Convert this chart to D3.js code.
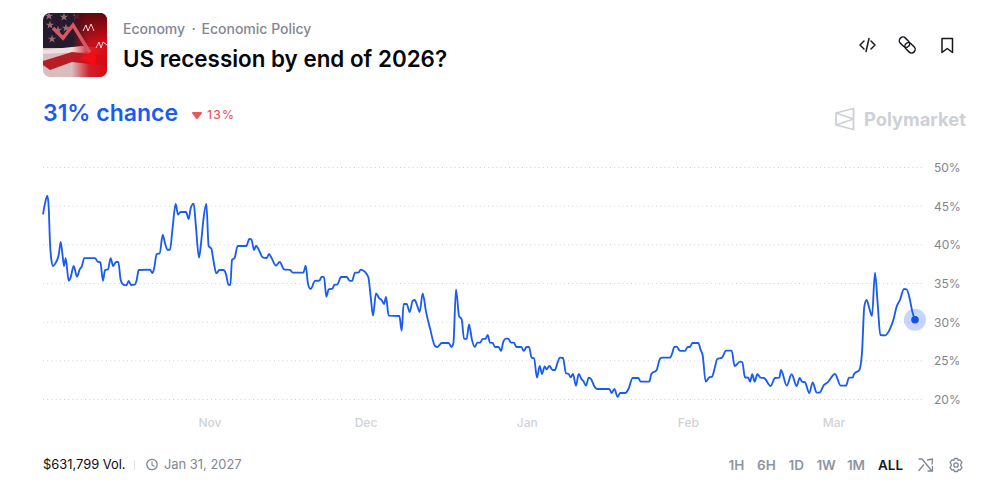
<!DOCTYPE html>
<html>
<head>
<meta charset="utf-8">
<script src="https://cdn.jsdelivr.net/npm/d3@7"></script>
<style>
  html, body { margin: 0; padding: 0; background: #fff; }
  svg { display: block; font-family: Inter, sans-serif; }
</style>
</head>
<body>
<div id="chart"></div>
<script>
// Days since 1 Nov 2025
const dayOffset = [
  -32.12,-31.73,-31.28,-31.03,-30.77,-30.51,-30.19,-29.81,-29.10,-28.72,-28.40,-28.08,-27.76,-27.18,-26.80,-26.22,-25.58,-25.06,-24.68,-24.17,
  -22.12,-21.60,-21.09,-20.58,-20.19,-19.62,-19.10,-18.65,-18.08,-17.63,-17.18,-16.67,-16.09,-15.64,-15.19,-14.49,-14.10,-13.72,-11.54,-11.09,
  -10.71,-10.26,-9.68,-9.10,-8.65,-8.21,-7.69,-7.24,-6.60,-6.15,-5.64,-4.62,-4.10,-3.72,-3.14,-2.76,-2.12,-1.73,-1.28,-0.71,
  -0.26,0.26,0.64,1.22,1.79,2.56,3.08,3.53,3.91,4.23,4.74,5.32,6.99,7.56,7.95,8.46,8.85,9.30,10.13,10.90,
  11.35,11.86,12.69,13.40,14.23,15.39,15.90,17.95,18.40,18.85,19.36,20.19,21.03,21.48,21.92,22.37,22.82,23.53,23.91,24.49,
  25.19,26.28,26.92,27.31,27.89,28.53,28.98,29.81,30.45,30.90,31.35,31.92,32.56,33.01,33.46,33.85,34.36,36.41,36.86,37.24,
  37.82,38.40,38.98,39.36,39.87,40.32,40.90,41.54,42.31,43.27,43.72,44.55,45.90,46.41,46.80,47.31,47.89,48.40,48.85,49.36,
  49.81,50.38,50.90,51.41,51.92,52.44,52.95,53.40,53.85,54.36,54.81,55.51,55.96,56.41,56.92,57.37,57.88,58.46,58.91,59.87,
  60.32,60.90,61.35,61.86,62.31,62.88,63.40,63.85,64.36,64.74,65.26,65.90,66.35,66.79,67.31,67.88,68.46,68.97,69.36,69.81,
  70.38,70.90,71.47,71.79,72.31,72.82,73.21,74.04,74.49,76.79,77.24,77.76,78.40,78.85,79.87,80.45,81.28,82.37,82.82,84.49,
  84.87,85.90,86.54,87.05,88.46,88.85,89.29,89.74,90.38,91.35,91.86,92.31,92.76,93.91,94.36,94.74,95.32,96.02,96.54,97.05,
  97.56,98.46,99.23,100.32,100.90,101.92,102.37,102.88,103.52,103.85,104.29,104.74,105.26,105.90,106.54,107.82,108.65,109.49,109.81,110.90,
  111.86,112.82,113.40,113.85,114.42,115.26,115.90,116.67,117.18,118.08,118.78,120.19,121.28,122.31,122.88,123.59,123.85,124.87,125.38,125.83,
  126.28,126.79,127.31,127.88,128.40,128.91,129.87,130.77,131.41,132.05,132.69,133.46,133.97,134.61,135.06,135.58
];

// Chance in percent, same order
const chance = [
  43.94,45.36,46.35,44.93,40.19,38.04,37.26,37.52,38.68,40.36,38.90,37.26,38.29,35.36,35.79,37.26,35.88,36.83,37.17,38.29,
  38.29,37.82,37.73,35.36,36.74,36.83,38.29,37.26,37.78,37.78,35.45,34.85,34.76,35.32,34.80,34.85,35.45,36.74,36.79,36.35,
  37.09,38.81,38.90,41.27,40.19,39.37,39.37,41.91,45.28,43.90,44.24,44.24,43.34,44.72,45.32,42.78,38.34,40.19,43.21,45.28,
  39.85,39.50,38.04,36.31,36.74,36.74,36.18,34.85,34.80,38.04,38.34,39.85,39.85,40.76,40.71,39.33,39.89,39.46,38.39,38.30,
  38.82,38.26,37.31,37.78,36.83,36.75,36.40,36.40,37.31,34.94,34.29,35.33,35.37,35.89,35.84,33.30,34.25,34.33,34.81,34.89,
  35.84,35.84,35.33,35.33,36.40,36.40,36.79,36.49,35.80,33.30,30.84,33.73,33.08,32.87,32.35,33.26,30.84,30.80,28.90,32.35,
  32.35,31.32,32.78,32.87,32.09,31.32,33.73,31.36,29.20,26.92,26.79,27.31,27.31,26.79,27.26,34.25,30.80,30.37,27.83,27.83,
  29.72,27.70,26.79,27.35,27.35,27.83,27.83,28.34,27.35,27.31,26.79,26.79,26.28,27.48,27.87,27.87,27.35,27.35,26.79,26.79,
  26.28,26.79,26.79,25.41,25.33,22.83,24.34,23.30,24.29,23.90,24.34,23.82,23.82,24.68,25.41,25.37,23.39,23.30,22.87,23.30,
  21.79,23.30,22.61,22.40,21.79,22.83,22.70,21.58,21.36,21.36,20.84,21.36,20.33,20.84,20.84,21.32,22.78,22.78,22.31,22.31,
  23.30,23.82,25.28,25.41,25.41,25.89,26.79,26.84,26.28,26.28,26.79,26.79,27.31,27.31,26.40,25.76,22.31,22.87,22.95,24.03,
  25.24,25.41,26.32,26.32,24.33,24.89,24.81,22.87,22.82,22.31,23.26,22.31,23.26,22.82,22.78,21.75,22.78,22.82,23.82,21.79,
  23.26,21.75,22.78,22.31,22.22,20.84,22.22,20.88,20.88,21.88,22.22,23.30,21.79,21.79,22.82,22.82,23.30,23.82,25.97,32.01,
  32.87,31.79,30.80,36.40,32.44,28.34,28.30,29.12,30.28,32.01,32.87,34.29,34.25,32.87,31.36,30.32
];

const yTicks = [20, 25, 30, 35, 40, 45, 50];
const monthTicks = ["2025-11-01", "2025-12-01", "2026-01-01", "2026-02-01", "2026-03-01"];
const monthLabels = ["Nov", "Dec", "Jan", "Feb", "Mar"];
const ranges = ["1H", "6H", "1D", "1W", "1M", "ALL"];

const blue = "#1b5cf0";
const width = 1005;
const height = 499;

const svg = d3.select("#chart")
  .append("svg")
    .attr("width", width)
    .attr("height", height)
    .attr("viewBox", `0 0 ${width} ${height}`);

// Chart
const nov1 = Date.UTC(2025, 10, 1);
const dates = dayOffset.map(d => new Date(nov1 + d * 864e5));
const points = dates.map((d, i) => ({date: d, value: chance[i]}));

const xScale = d3.scaleUtc()
  .domain([new Date(nov1 - 32.12 * 864e5), new Date(nov1 + 135.58 * 864e5)])
  .range([43, 915]);
const yScale = d3.scaleLinear()
  .domain([20, 50])
  .range([399.5, 167.5]);

svg.append("g")
  .selectAll("line")
  .data(yTicks)
  .join("line")
    .attr("x1", 43)
    .attr("x2", 924)
    .attr("y1", d => yScale(d))
    .attr("y2", d => yScale(d))
    .attr("stroke", "#cdd0d5")
    .attr("stroke-width", 1)
    .attr("stroke-dasharray", "1 3.2");

const leftLabels = d3.axisRight(yScale)
  .tickValues(yTicks)
  .tickFormat(d => `${d}%`)
  .tickSize(0)
  .tickPadding(0);
svg.append("g")
    .attr("class", "axis-y")
    .attr("transform", "translate(934, 0)")
    .call(leftLabels);

const bottomAxis = d3.axisBottom(xScale)
  .tickValues(monthTicks.map(d => new Date(d)))
  .tickFormat((d, i) => monthLabels[i])
  .tickSize(0)
  .tickPadding(0);
svg.append("g")
    .attr("class", "axis-x")
    .attr("transform", "translate(-0.5, 418)")
    .call(bottomAxis);

svg.selectAll(".domain").remove();
svg.selectAll(".axis-y text")
  .style("font-family", "Inter, sans-serif")
  .style("font-size", "12px")
  .attr("fill", "#808690");
svg.selectAll(".axis-x text")
  .style("font-family", "Inter, sans-serif")
  .style("font-size", "12px")
  .style("font-weight", 500)
  .attr("fill", "#cfd2d7");

const lineGenerator = d3.line()
  .x(d => xScale(d.date))
  .y(d => yScale(d.value))
  .curve(d3.curveMonotoneX);

svg.append("path")
    .attr("d", lineGenerator(points))
    .attr("fill", "none")
    .attr("stroke", blue)
    .attr("stroke-width", 1.85)
    .attr("stroke-linejoin", "round");

const last = points[points.length - 1];
svg.append("circle")
    .attr("cx", xScale(last.date))
    .attr("cy", yScale(last.value))
    .attr("r", 11)
    .attr("fill", blue)
    .attr("opacity", 0.25);
svg.append("circle")
    .attr("cx", xScale(last.date))
    .attr("cy", yScale(last.value))
    .attr("r", 3.8)
    .attr("fill", "#1250e4");

// Thumbnail
const defs = svg.append("defs");
defs.append("clipPath").attr("id", "thumb")
  .append("rect").attr("x", 43).attr("y", 13).attr("width", 64).attr("height", 64).attr("rx", 7);
const fade = defs.append("linearGradient").attr("id", "fade").attr("x1", 0).attr("x2", 1).attr("y1", 0).attr("y2", 0);
fade.append("stop").attr("offset", "45%").attr("stop-color", "#d0101a").attr("stop-opacity", 0);
fade.append("stop").attr("offset", "72%").attr("stop-color", "#d0101a").attr("stop-opacity", 0.9);
fade.append("stop").attr("offset", "100%").attr("stop-color", "#d80a14");
const dim = defs.append("linearGradient").attr("id", "dim").attr("x1", 0).attr("x2", 0).attr("y1", 0).attr("y2", 1);
dim.append("stop").attr("offset", "0%").attr("stop-color", "#4a060c").attr("stop-opacity", 0.85);
dim.append("stop").attr("offset", "45%").attr("stop-color", "#4a060c").attr("stop-opacity", 0);
const thumb = svg.append("g").attr("clip-path", "url(#thumb)");
thumb.append("rect").attr("x", 43).attr("y", 13).attr("width", 64).attr("height", 64).attr("fill", "#d9bcbd");
thumb.append("rect").attr("x", 43).attr("y", 13).attr("width", 64).attr("height", 35).attr("fill", "#251a2e");
thumb.append("path").attr("d", "M43 50 L82 46 L107 48 V50 L82 52 L43 54 Z").attr("fill", "#efe0df");
thumb.append("path").attr("d", "M43 61 L72 52 L107 56 V66 L72 62 L50 70 L43 65 Z").attr("fill", "#b81d26");
thumb.selectAll(".star")
  .data([[52, 39], [50, 25], [64, 17], [66, 28], [49, 16], [77, 16], [58, 30]])
  .join("path")
    .attr("class", "star")
    .attr("transform", d => `translate(${d[0]}, ${d[1]})`)
    .attr("d", d3.symbol(d3.symbolStar, 22))
    .attr("fill", "#9c6a75");
thumb.append("rect").attr("x", 43).attr("y", 13).attr("width", 64).attr("height", 64).attr("fill", "url(#fade)");
thumb.append("rect").attr("x", 75).attr("y", 13).attr("width", 32).attr("height", 64).attr("fill", "url(#dim)");
thumb.append("path").attr("d", "M53 28 L63 38 L73 25 L90 53").attr("fill", "none").attr("stroke", "#d9555f").attr("stroke-width", 3.5);
thumb.append("path").attr("d", "M80 58 L98 48 L95 66 Z").attr("fill", "#f00d14");
thumb.append("path").attr("d", "M83 31 L86 25 L88 31 L91 24 L94 31 M96 48 L99 42 L101 48 L103 42 L107 45")
  .attr("fill", "none").attr("stroke", "#f3d6d6").attr("stroke-width", 1);

// Header
const addText = (text, x, y, size, color, weight = 400, anchor = "start") =>
  svg.append("text")
    .text(text)
    .attr("x", x)
    .attr("y", y)
    .attr("font-size", size)
    .attr("fill", color)
    .attr("font-weight", weight)
    .attr("text-anchor", anchor);

addText("Economy", 123, 34, 14, "#7f8794", 500);
addText("·", 191.5, 34, 14, "#7f8794", 500);
addText("Economic Policy", 201.5, 34, 14, "#7f8794", 500);
addText("US recession by end of 2026?", 123, 67, 22.4, "#06070a", 600);
addText("31% chance", 43, 121, 23, blue, 600);
svg.append("path")
    .attr("d", "M193 112 H201 Q202.6 112 201.8 113.6 L198 118.5 Q197 119.5 196 118.5 L192.2 113.6 Q191.4 112 193 112 Z")
    .attr("fill", "#e9585e");
addText("13%", 207, 119, 12, "#e9585e", 500).attr("letter-spacing", "1.2");

// Header icons
const iconStroke = svg.append("g")
    .attr("fill", "none")
    .attr("stroke", "#16181d")
    .attr("stroke-width", 1.5)
    .attr("stroke-linecap", "round")
    .attr("stroke-linejoin", "round");
iconStroke.append("path").attr("d", "M864 41 L860 45 L864 49 M871 41 L875 45 L871 49 M869 38.5 L866 51.5");
iconStroke.selectAll(".link")
  .data([[904.5, 42.2], [910, 47.8]])
  .join("rect")
    .attr("class", "link")
    .attr("x", -5.8)
    .attr("y", -3.6)
    .attr("width", 11.6)
    .attr("height", 7.2)
    .attr("rx", 3.6)
    .attr("transform", d => `translate(${d[0]}, ${d[1]}) rotate(45)`);
iconStroke.append("path").attr("d", "M942 38.5 H952.5 V52.5 L947.2 48.5 L942 52.5 Z");

// Polymarket mark
svg.append("path")
    .attr("d", "M836 113 L853.5 108.5 V129.5 L836 125 Z M836 113 L853.5 119 L836 125")
    .attr("fill", "none")
    .attr("stroke", "#cdd1d7")
    .attr("stroke-width", 1.8)
    .attr("stroke-linejoin", "round");
addText("Polymarket", 864, 126, 18.3, "#cdd1d7", 700);

// Footer
addText("$631,799 Vol.", 43, 469, 12.9, "#0c0d10", 400);
svg.append("rect").attr("x", 134).attr("y", 460).attr("width", 1).attr("height", 10).attr("fill", "#dfe1e5");
svg.append("circle").attr("cx", 152).attr("cy", 464.5).attr("r", 5.2).attr("fill", "none").attr("stroke", "#7f8794").attr("stroke-width", 1.3);
svg.append("path").attr("d", "M152 461.5 V465 L154.5 466.5").attr("fill", "none").attr("stroke", "#7f8794").attr("stroke-width", 1.2);
addText("Jan 31, 2027", 164, 469, 12.9, "#7f8794", 400);

const rangeCenter = d3.scalePoint().domain(ranges.slice(0, 5)).range([736.5, 856]);
ranges.forEach(r => {
  const active = r === "ALL";
  addText(r, active ? 890.5 : rangeCenter(r), 470, 13.5, active ? "#17191e" : "#8d96a3", 600, "middle");
});

const tools = svg.append("g")
    .attr("fill", "none")
    .attr("stroke", "#7f8794")
    .attr("stroke-width", 1.3)
    .attr("stroke-linejoin", "round");
tools.append("path").attr("d", "M918.5 459 H922 L931.5 470.5 M918.5 471 L924 464.5 M927 460 L932.5 459 L932 464.5 M927.5 471 L932.5 471 L932.5 466");
tools.append("circle").attr("cx", 956).attr("cy", 465).attr("r", 2.2);
tools.append("path")
    .attr("d", "M954.5 458.5 H957.5 L958.2 460.3 L960 459.8 L962 462.3 L960.8 464 V466 L962 467.7 L960 470.2 L958.2 469.7 L957.5 471.5 H954.5 L953.8 469.7 L952 470.2 L950 467.7 L951.2 466 V464 L950 462.3 L952 459.8 L953.8 460.3 Z");
</script>
</body>
</html>
